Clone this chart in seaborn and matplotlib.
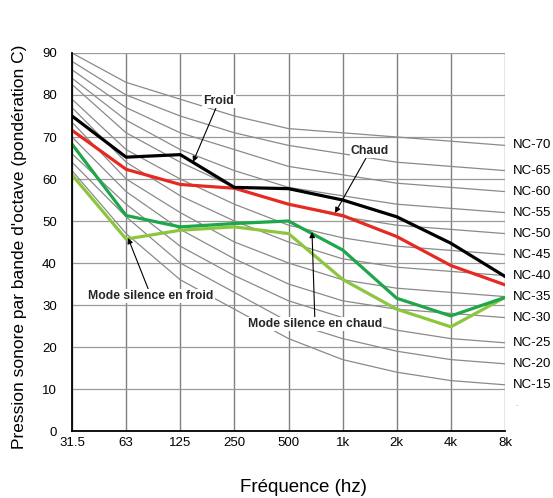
import matplotlib
matplotlib.use("Agg")
import matplotlib.pyplot as plt
import seaborn as sns
import pandas as pd

freq_labels = ["31.5", "63", "125", "250", "500", "1k", "2k", "4k", "8k"]

froid = [75.0, 65.2, 65.8, 58.0, 57.7, 55.0, 51.0, 44.7, 36.8]
chaud = [71.6, 62.3, 58.7, 57.8, 54.0, 51.3, 46.3, 39.4, 34.8]
silence_chaud = [68.3, 51.3, 48.6, 49.4, 50.0, 43.1, 31.6, 27.4, 31.8]
silence_froid = [61.0, 45.7, 47.8, 48.6, 47.0, 36.1, 29.0, 24.8, 31.8]

nc_names = ["NC-70", "NC-65", "NC-60", "NC-55", "NC-50", "NC-45",
            "NC-40", "NC-35", "NC-30", "NC-25", "NC-20", "NC-15"]
nc_values = [
    [90.0, 83, 79, 75, 72, 71, 70, 69, 68],
    [88.0, 80, 75, 71, 68, 66, 64, 63, 62],
    [86.0, 77, 71, 67, 63, 61, 59, 58, 57],
    [84.0, 74, 67, 62, 58, 56, 54, 53, 52],
    [82.5, 71, 64, 58, 54, 51, 49, 48, 47],
    [79.0, 67, 60, 54, 49, 46, 44, 43, 42],
    [77.0, 64, 56, 50, 45, 41, 39, 38, 37],
    [73.5, 60, 52, 45, 40, 36, 34, 33, 32],
    [70.0, 57, 48, 41, 35, 31, 29, 28, 27],
    [66.0, 54, 44, 37, 31, 27, 24, 22, 21],
    [64.0, 51, 40, 33, 26, 22, 19, 17, 16],
    [62.0, 47, 36, 29, 22, 17, 14, 12, 11],
]

sns.set_theme(style="white")
plt.rcParams["font.family"] = ["Liberation Sans", "DejaVu Sans"]

fig = plt.figure(figsize=(5.53, 4.98), dpi=100)
ax = fig.add_axes([72 / 553, 1 - 431 / 498, (505 - 72) / 553, (431 - 53) / 498])

xpos = list(range(len(freq_labels)))

# NC curves
nc_rows = []
for name, vals in zip(nc_names, nc_values):
    for x, v in zip(xpos, vals):
        nc_rows.append({"x": x, "y": v, "nc": name})
nc_df = pd.DataFrame(nc_rows)
sns.lineplot(data=nc_df, x="x", y="y", units="nc", estimator=None,
             color="#8a8a8a", lw=0.9, ax=ax, zorder=2, legend=False)

for name, vals in zip(nc_names, nc_values):
    ax.text(len(xpos) - 1 + 0.15, vals[-1], name, ha="left", va="center",
            fontsize=9.5, color="black", clip_on=False)

series = [
    ("Mode silence en froid", silence_froid, "#8cc63e"),
    ("Mode silence en chaud", silence_chaud, "#1ea64b"),
    ("Chaud", chaud, "#e52a22"),
    ("Froid", froid, "#000000"),
]
for name, vals, col in series:
    df = pd.DataFrame({"x": xpos, "y": vals})
    sns.lineplot(data=df, x="x", y="y", color=col, lw=2.3, ax=ax,
                 zorder=4, legend=False)

ax.set_xlim(0, len(xpos) - 1)
ax.set_ylim(0, 90)
ax.set_xticks(xpos)
ax.set_xticklabels(freq_labels)
ax.set_yticks(range(0, 91, 10))
ax.tick_params(axis="both", length=0, labelsize=9.5, colors="black")
ax.tick_params(axis="y", pad=11)
ax.tick_params(axis="x", pad=4)
ax.set_xlabel("")
ax.set_ylabel("")
ax.grid(True, axis="y", color="#9a9a9a", lw=0.9, zorder=1)
ax.grid(True, axis="x", color="#808080", lw=1.0, zorder=1)
ax.set_axisbelow(True)
for s in ["top", "right"]:
    ax.spines[s].set_visible(False)
for s in ["left", "bottom"]:
    ax.spines[s].set_color("black")
    ax.spines[s].set_linewidth(1.3)
    ax.spines[s].set_zorder(5)

ann_font = dict(fontsize=8.8, fontweight="bold",
                family=["Liberation Sans Narrow", "Liberation Sans", "DejaVu Sans"])
box = dict(facecolor="white", edgecolor="none", pad=1.0)
arrow = dict(arrowstyle="-|>", color="black", lw=0.8, mutation_scale=8,
             shrinkA=0, shrinkB=0)

def px(xp, yp):
    return ((xp - 72) / (505 - 72) * 8, (431 - yp) / 4.2)

ax.annotate("Froid", xy=px(193, 162), xytext=px(219, 101), ha="center",
            va="center", arrowprops=arrow, bbox=box, zorder=6, **ann_font)
ax.annotate("Chaud", xy=px(335, 213), xytext=px(370, 151), ha="center",
            va="center", arrowprops=arrow, bbox=box, zorder=6, **ann_font)
ax.annotate("Mode silence en froid", xy=px(128, 238), xytext=px(151, 296),
            ha="center", va="center", arrowprops=arrow, bbox=box, zorder=6,
            **ann_font)
ax.annotate("Mode silence en chaud", xy=px(312, 232), xytext=px(315, 324),
            ha="center", va="center", arrowprops=arrow, bbox=box, zorder=6,
            **ann_font)

ax.text(8.18, 6, ".", fontsize=6, color="#777777", clip_on=False)

fig.text(20 / 553, 1 - 247 / 498, "Pression sonore par bande d'octave (pondération C)",
         rotation=90, ha="center", va="center", fontsize=12.5, color="black")
fig.text(303 / 553, 1 - 487 / 498, "Fréquence (hz)", ha="center", va="center",
         fontsize=13.5, color="black")

fig.savefig("out.png", dpi=100)
